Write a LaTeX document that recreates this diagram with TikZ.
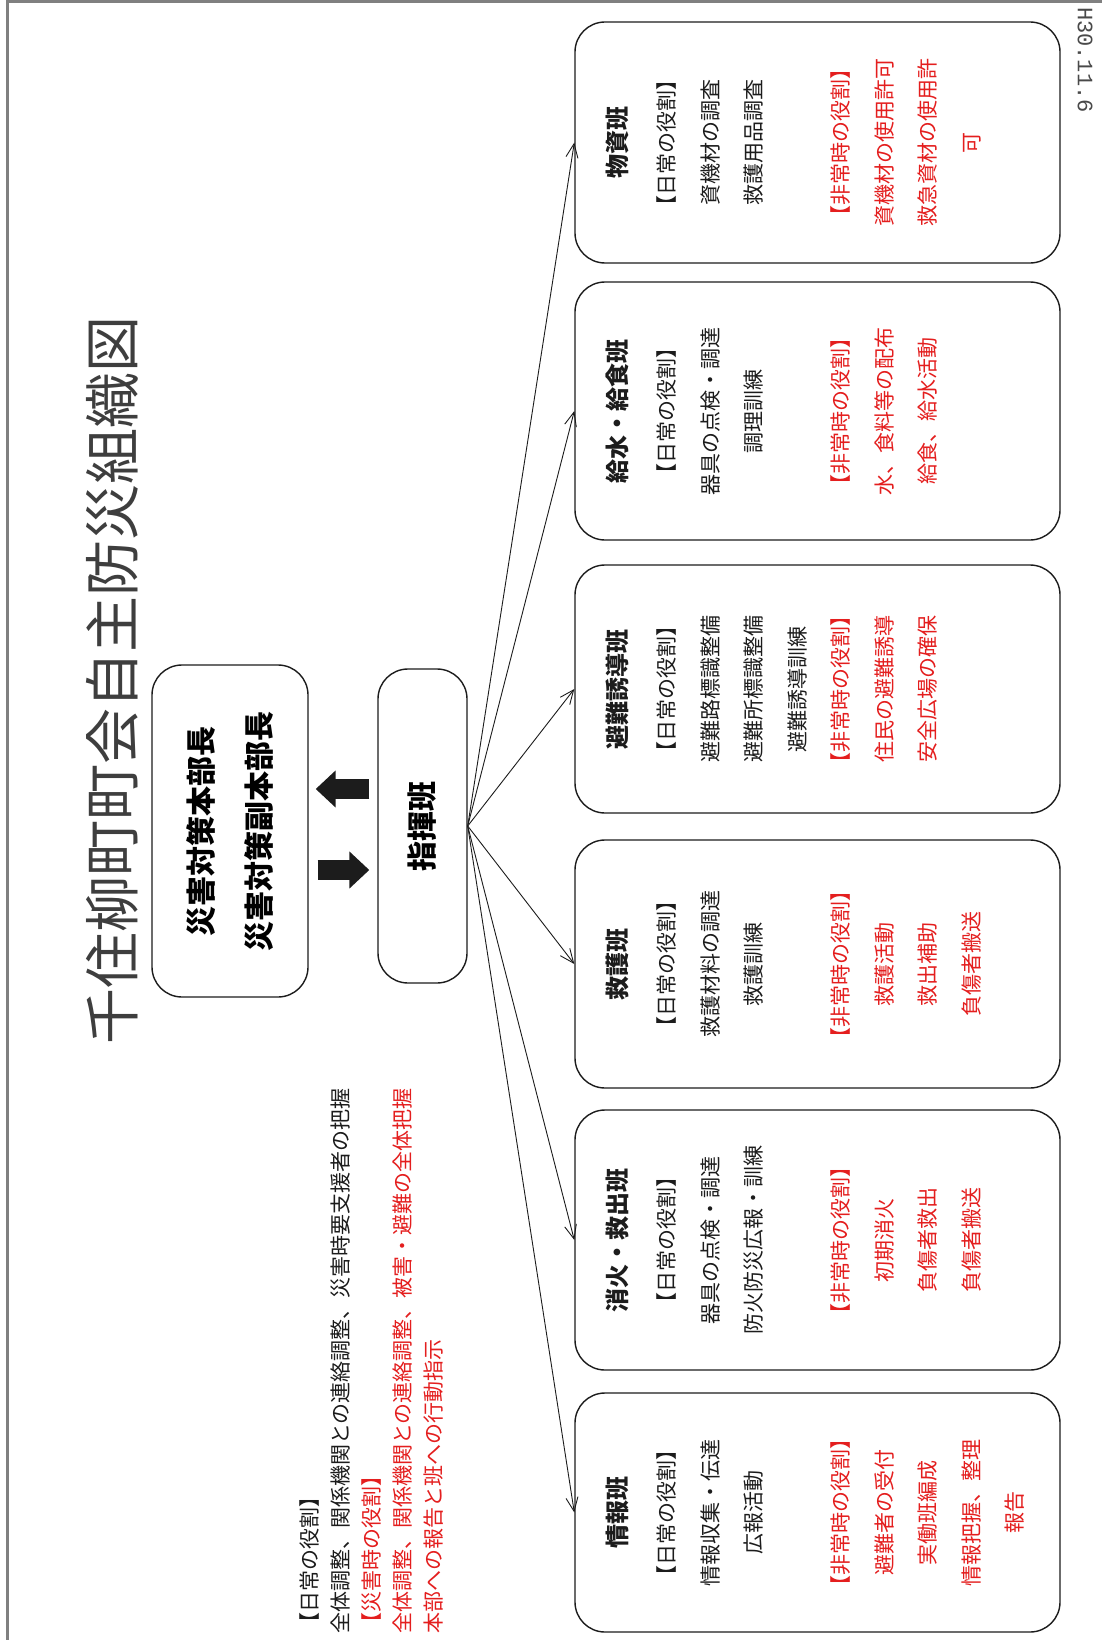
\documentclass[tikz,border=0pt]{standalone}
\usepackage{fontspec}
\setmainfont{Noto Sans CJK JP}
\newfontfamily\datefont{Liberation Mono}
\usetikzlibrary{arrows.meta}
\definecolor{jred}{RGB}{228,30,30}
\definecolor{ink}{RGB}{28,28,28}
\begin{document}
\begin{tikzpicture}[x=1pt,y=-1pt,
  box/.style={draw=ink, line width=1.4pt, rounded corners=30pt, inner sep=0pt},
  rbox/.style={box, rotate=90},
  lbl/.style={rotate=90, inner sep=0pt, align=center, text=ink},
  txt/.style={lbl, anchor=north, font=\fontsize{21}{43.5}\selectfont},
  fan/.style={draw=ink, line width=0.9pt, -{Straight Barb[length=14pt,width=12pt]}},
  big/.style={draw=ink, line width=20pt, -{Triangle[length=20pt,width=36pt]}},
]
\useasboundingbox[fill=white] (0,0) rectangle (1102,1640);
\draw[gray, line width=3pt] (7,1640) -- (7,1.5) -- (1102,1.5);

% title and date
\node[lbl, text=ink!85, font=\fontsize{56}{60}\selectfont] (title) at (112,680) {千住柳町町会自主防災組織図};
\node[rotate=-90, inner sep=0pt, text=ink!80, font=\datefont\fontsize{22}{24}\selectfont] (date) at (1085,60) {H30.11.6};

% headquarters and command team
\node[rbox, minimum width=332pt, minimum height=156pt, align=center,
      font=\bfseries\fontsize{30}{58}\selectfont] (hq) at (230,831) {災害対策本部長\\災害対策副本部長};
\node[rbox, minimum width=314pt, minimum height=89pt,
      font=\bfseries\fontsize{30}{36}\selectfont] (zhb) at (422.5,826) {指揮班};

\coordinate (ua) at (0,789);
\coordinate (la) at (0,870);
\draw[big, shorten <=8pt, shorten >=7pt] (zhb.north |- ua) -- (hq.south |- ua);
\draw[big, shorten <=9pt, shorten >=8pt] (hq.south |- la) -- (zhb.north |- la);

% note for command team
\node[lbl, align=left, anchor=north west, font=\fontsize{21}{31}\selectfont] (note) at (300,1634)
  {【日常の役割】\\
   全体調整、関係機関との連絡調整、災害時要支援者の把握\\
   \textcolor{jred}{【災害時の役割】}\\
   \textcolor{jred}{全体調整、関係機関との連絡調整、被害・避難の全体把握}\\
   \textcolor{jred}{本部への報告と班への行動指示}};

% team boxes
\node[box, minimum width=485pt, minimum height=239pt] (b1) at (817.5,1512.5) {};
\node[box, minimum width=485pt, minimum height=260pt] (b2) at (817.5,1240) {};
\node[box, minimum width=485pt, minimum height=248pt] (b3) at (817.5,964) {};
\node[box, minimum width=485pt, minimum height=248pt] (b4) at (817.5,689) {};
\node[box, minimum width=485pt, minimum height=258pt] (b5) at (817.5,411) {};
\node[box, minimum width=485pt, minimum height=241pt] (b6) at (817.5,142.5) {};

\newcommand\ttl[1]{{\bfseries\fontsize{24}{43.5}\selectfont #1}}
\newcommand\rl[1]{\textcolor{jred}{#1}}

\node[txt] (t1) at (606,1512.5) {\ttl{情報班}\\[4.5pt]
  【日常の役割】\\情報収集・伝達\\広報活動\\[43.5pt]
  \rl{【非常時の役割】}\\\rl{避難者の受付}\\\rl{実働班編成}\\\rl{情報把握、整理}\\\rl{報告}};
\node[txt] (t2) at (606,1240) {\ttl{消火・救出班}\\[4.5pt]
  【日常の役割】\\器具の点検・調達\\防火防災広報・訓練\\[43.5pt]
  \rl{【非常時の役割】}\\\rl{初期消火}\\\rl{負傷者救出}\\\rl{負傷者搬送}};
\node[txt] (t3) at (606,964) {\ttl{救護班}\\[4.5pt]
  【日常の役割】\\救護材料の調達\\救護訓練\\[43.5pt]
  \rl{【非常時の役割】}\\\rl{救護活動}\\\rl{救出補助}\\\rl{負傷者搬送}};
\node[txt] (t4) at (606,689) {\ttl{避難誘導班}\\[4.5pt]
  【日常の役割】\\避難路標識整備\\避難所標識整備\\避難誘導訓練\\
  \rl{【非常時の役割】}\\\rl{住民の避難誘導}\\\rl{安全広場の確保}};
\node[txt] (t5) at (606,411) {\ttl{給水・給食班}\\[4.5pt]
  【日常の役割】\\器具の点検・調達\\調理訓練\\[43.5pt]
  \rl{【非常時の役割】}\\\rl{水、食料等の配布}\\\rl{給食、給水活動}};
\node[txt] (t6) at (606,142.5) {\ttl{物資班}\\[4.5pt]
  【日常の役割】\\資機材の調査\\救護用品調査\\[43.5pt]
  \rl{【非常時の役割】}\\\rl{資機材の使用許可}\\\rl{救急資材の使用許}\\\rl{可}};

% connectors
\foreach \b in {b1,b2,b3,b4,b5,b6}
  \draw[fan] (zhb.south) -- (\b.west);
\end{tikzpicture}
\end{document}
